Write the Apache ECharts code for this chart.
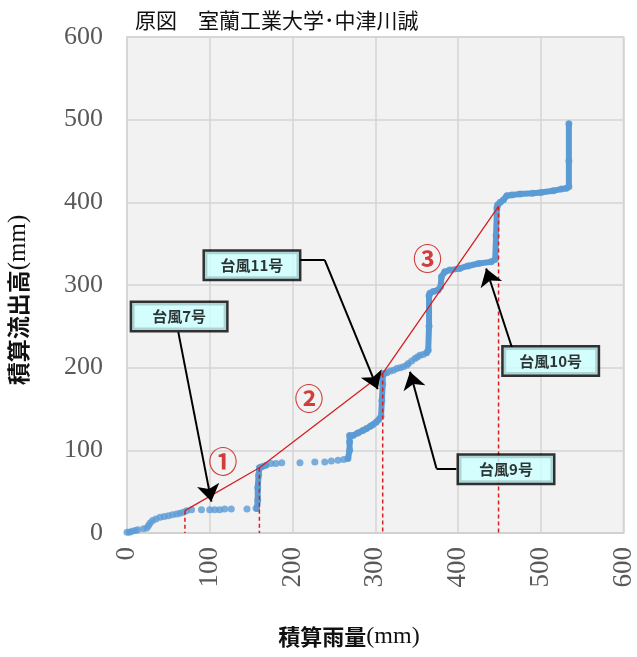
<!DOCTYPE html>
<html>
<head>
<meta charset="utf-8">
<script src="https://cdn.jsdelivr.net/npm/echarts@6/dist/echarts.min.js"></script>
<style>html,body{margin:0;padding:0;background:#fff}#c{width:637px;height:657px}</style>
</head>
<body>
<div id="c"></div>
<script>
// ---- data (積算雨量 mm, 積算流出高 mm) ----
const xTicks = [0, 100, 200, 300, 400, 500, 600];
const yTicks = [0, 100, 200, 300, 400, 500, 600];

// observed dots
const observedPoints = [
  [0,1],[3,1],[6,2],[10,3],[13,4],[20,5],[24,6],[26,9],[28,12],[31,15],[35,17],[40,19],[45,20],[50,21],[55,22],[60,23],[64,24],[68,25],[72,27],
  [78,28],[90,28],[100,28],[106,28],[112,28],[118,29],[126,29],[145,29],[156,30],
  [158,40],[158,55],[159,70],[160,79],
  [163,80],[168,82],[174,84],[180,84],[187,85],[209,85],[227,86],[239,86],[247,87],[255,88],[262,89],[267,90],
  [269,100],[269,110],[269,118],[273,118],[279,121],[285,124],[289,126],[294,129],[297,131],[301,134],[304,137],[307,141],
  [308,160],[309,180],[309,191],
  [310,193],[314,194],[318,196],[322,197],[326,199],[330,200],[334,201],[338,203],[340,205],[344,208],[348,211],[351,213],[354,215],[358,216],[362,218],[364,221],
  [365,250],[365,287],[366,290],[370,292],[376,294],[379,298],[380,310],[384,316],[390,318],[402,320],[412,323],[425,326],[440,328],[445,331],
  [446,360],[447,393],[448,397],[451,400],[455,403],[459,408],[465,409],[475,410],[490,411],[500,412],[515,414],[525,416],[531,417],[534,419],
  [534,450],[534,495]
];
// dense (continuous-looking) stretches of the observed trace
const denseTrace = [
  [157,29],[158,40],[158,55],[159,70],[160,79],[163,80],[168,82], null,
  [267,90],[269,100],[269,118],[273,118],[279,121],[285,124],[289,126],[294,129],[297,131],[301,134],[304,137],[307,141],[308,160],[309,180],[309,191],[312,193], null,
  [362,218],[364,221],[365,250],[365,287],[366,290],[370,292],[376,294],[379,298],[380,310],[384,316],[390,318],[402,320],[412,323],[425,326],[440,328],[445,331],
  [446,360],[447,393],[448,397],[451,400],[455,403],[459,408],[465,409],[475,410],[490,411],[500,412],[515,414],[525,416],[531,417],[534,419],[534,450],[534,495]
];
// red trend (①②③)
const trendPoints = [[70,27],[160,79],[309,193],[449,395]];
// circled labels
const circleLabels = [['①',116,86],['②',220,162],['③',363,331]];
// typhoon callouts: text, box centre x, y
const calloutBoxes = [['台風7号',63,262],['台風11号',151,324],['台風9号',458,77],['台風10号',512,208]];
// leader lines (no head) and arrow segments (head at end)
const calloutLeaders = [
  [[209,330],[239,330]],
  [[398,78],[374,78]]
];
const calloutArrows = [
  [[62,243],[102,38]],
  [[239,330],[303,174]],
  [[374,78],[342,195]],
  [[465,225],[434,320]]
];

// ---- build ----
const dashedDrops = [];
trendPoints.forEach(p => { dashedDrops.push([p[0], p[1]], [p[0], 0], null); });

const chart = echarts.init(document.getElementById('c'), null, {renderer: 'canvas'});
const serif = "'Liberation Serif', 'Times New Roman', serif";
const jp = "'Noto Sans CJK JP', sans-serif";

chart.setOption({
  animation: false,
  backgroundColor: '#ffffff',
  title: {
    text: '原図　室蘭工業大学･中津川誠',
    left: 130, top: 5,
    textStyle: {fontFamily: jp, fontSize: 21, fontWeight: 'normal', color: '#111'}
  },
  grid: {
    left: 127, right: 13, top: 37, bottom: 124,
    show: true, backgroundColor: '#f2f2f2', borderColor: '#d0d0d0', borderWidth: 1.5
  },
  xAxis: {
    type: 'value', min: 0, max: 600, interval: 100,
    axisLine: {show: true, lineStyle: {color: '#cfcfcf', width: 1.5}},
    axisTick: {show: false},
    splitLine: {show: true, lineStyle: {color: '#d4d4d4', width: 1.5}},
    axisLabel: {rotate: 90, fontFamily: serif, fontSize: 27, color: '#595959', margin: 14,
      formatter: v => xTicks.includes(v) ? String(v) : ''}
  },
  yAxis: {
    type: 'value', min: 0, max: 600, interval: 100,
    axisLine: {show: false}, axisTick: {show: false},
    splitLine: {show: true, lineStyle: {color: '#d4d4d4', width: 1.5}},
    axisLabel: {fontFamily: serif, fontSize: 26, color: '#595959', margin: 24,
      formatter: v => yTicks.includes(v) ? String(v) : ''}
  },
  graphic: [
    {type: 'text', x: 349, y: 637, z: 10,
      style: {text: '{a|積算雨量}{b|(mm)}', align: 'center', verticalAlign: 'middle',
        rich: {a: {fontFamily: jp, fontSize: 22, fontWeight: 'bold', fill: '#111'},
               b: {fontFamily: serif, fontSize: 24, fill: '#111'}}}},
    {type: 'text', x: 18, y: 300, rotation: Math.PI / 2, z: 10,
      style: {text: '{a|積算流出高}{b|(mm)}', align: 'center', verticalAlign: 'middle',
        rich: {a: {fontFamily: jp, fontSize: 23, fontWeight: 'bold', fill: '#111'},
               b: {fontFamily: serif, fontSize: 25, fill: '#111'}}}}
  ],
  series: [
    {type: 'line', data: denseTrace, connectNulls: false, showSymbol: false, z: 2,
      lineStyle: {color: '#5b9bd5', width: 6, cap: 'round', join: 'round'}},
    {type: 'scatter', data: observedPoints, symbolSize: 7, z: 3,
      itemStyle: {color: '#5b9bd5'}},
    {type: 'line', data: trendPoints, showSymbol: false, z: 5,
      lineStyle: {color: '#d42020', width: 1.3}},
    {type: 'line', data: dashedDrops, connectNulls: false, showSymbol: false, z: 5,
      lineStyle: {color: '#d42020', width: 1.5, type: [4, 3]}},
    {type: 'scatter', data: circleLabels.map(c => ({value: [c[1], c[2]], name: c[0]})),
      symbolSize: 1, itemStyle: {color: 'rgba(0,0,0,0)'}, z: 6,
      label: {show: true, position: 'inside', formatter: p => p.name,
        fontFamily: jp, fontSize: 29, fontWeight: 'bold', color: '#c80f0f',
        textBorderWidth: 0, textShadowBlur: 0}},
    {type: 'lines', coordinateSystem: 'cartesian2d', z: 7,
      symbol: 'none',
      lineStyle: {color: '#000', width: 2, opacity: 1},
      data: calloutLeaders.map(a => ({coords: a}))},
    {type: 'lines', coordinateSystem: 'cartesian2d', z: 7,
      symbol: ['none', 'arrow'], symbolSize: [13, 17],
      lineStyle: {color: '#000', width: 2, opacity: 1},
      data: calloutArrows.map(a => ({coords: a}))},
    {type: 'scatter', data: calloutBoxes.map(b => ({value: [b[1], b[2]], name: b[0]})),
      symbolSize: 1, itemStyle: {color: 'rgba(0,0,0,0)'}, z: 8,
      label: {show: true, position: 'inside', formatter: p => p.name,
        fontFamily: jp, fontSize: 15, fontWeight: 'bold', color: '#000',
        textBorderWidth: 0, textShadowBlur: 0,
        width: 62, align: 'center', lineHeight: 17,
        backgroundColor: '#ccffff', borderColor: '#000', borderWidth: 2.5,
        padding: [5, 16, 5, 16]}}
  ]
});
</script>
</body>
</html>
